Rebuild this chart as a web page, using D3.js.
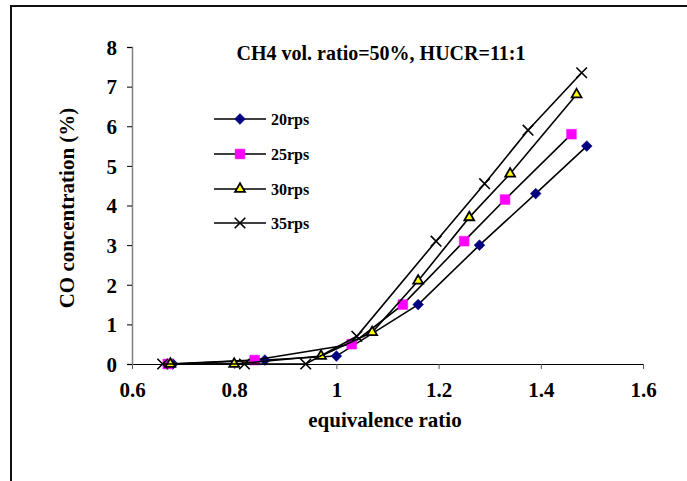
<!DOCTYPE html>
<html>
<head>
<meta charset="utf-8">
<script src="https://cdn.jsdelivr.net/npm/d3@7"></script>
<style>
body { margin: 0; background: #fff; }
text { font-family: "Liberation Serif", "Times New Roman", serif; font-weight: bold; fill: #000; }
</style>
</head>
<body>
<svg width="687" height="481"></svg>
<script>
// series
let series_names = ["20rps", "25rps", "30rps", "35rps"];
let phi20 = [0.68, 0.86, 1.0, 1.16, 1.28, 1.39, 1.49];
let co20 = [0, 0.1, 0.2, 1.5, 3.0, 4.3, 5.5];
let phi25 = [0.67, 0.84, 1.03, 1.13, 1.25, 1.33, 1.46];
let co25 = [0, 0.1, 0.5, 1.5, 3.1, 4.15, 5.8];
let phi30 = [0.675, 0.80, 0.97, 1.07, 1.16, 1.26, 1.34, 1.47];
let co30 = [0, 0, 0.2, 0.8, 2.1, 3.7, 4.8, 6.8];
let phi35 = [0.66, 0.82, 0.94, 1.04, 1.195, 1.29, 1.375, 1.48];
let co35 = [0, 0, 0, 0.7, 3.1, 4.55, 5.9, 7.35];
let x_ticks = [0.6, 0.8, 1.0, 1.2, 1.4, 1.6];
let x_tick_labels = ["0.6", "0.8", "1", "1.2", "1.4", "1.6"];
let y_ticks = [0, 1, 2, 3, 4, 5, 6, 7, 8];

var svg = d3.select("svg");

// outer frame (only left and top edges show)
svg.append("rect")
  .attr("x", 11).attr("y", 6)
  .attr("width", 700).attr("height", 500)
  .attr("fill", "none").attr("stroke", "#111").attr("stroke-width", 2);

var x = d3.scaleLinear().domain([0.6, 1.6]).range([132, 643]);
var y = d3.scaleLinear().domain([0, 8]).range([364, 47]);

// axes
var yAxis = svg.append("g")
  .attr("transform", "translate(132,0)")
  .call(d3.axisLeft(y).tickValues(y_ticks).tickSize(5).tickPadding(10).tickFormat(d3.format("d")));
yAxis.select(".domain").attr("stroke", "#808080").attr("stroke-width", 1.5);
yAxis.selectAll(".tick line").attr("stroke", "#000");
yAxis.selectAll("text").style("font-size", "21px").attr("dy", "0.35em");

var xAxis = svg.append("g")
  .attr("transform", "translate(0,364)")
  .call(d3.axisBottom(x).tickValues(x_ticks).tickSize(5).tickSizeOuter(5).tickPadding(13)
    .tickFormat(function(d, i) { return x_tick_labels[i]; }));
xAxis.select(".domain").attr("stroke", "#000").attr("stroke-width", 1);
xAxis.selectAll(".tick line").attr("stroke", "#555");
xAxis.selectAll("text").style("font-size", "21px");
// keep the y axis line drawn over x axis
yAxis.raise();

// titles
svg.append("text")
  .attr("x", 381).attr("y", 60)
  .attr("text-anchor", "middle")
  .style("font-size", "20px")
  .text("CH4 vol. ratio=50%, HUCR=11:1");

svg.append("text")
  .attr("x", 385).attr("y", 427)
  .attr("text-anchor", "middle")
  .style("font-size", "21px")
  .text("equivalence ratio");

svg.append("text")
  .attr("transform", "translate(74,208) rotate(-90)")
  .attr("text-anchor", "middle")
  .style("font-size", "21px")
  .text("CO concentration (%)");

var line = d3.line()
  .x(function(d) { return x(d[0]); })
  .y(function(d) { return y(d[1]); });

var timesType = d3.symbolTimes || d3.symbolX;

var styles = [
  { type: d3.symbolSquare, size: 58, rot: 45, fill: "#000080", stroke: "#000080", sw: 0.5 },
  { type: d3.symbolSquare, size: 95, rot: 0, fill: "#FF00FF", stroke: "#FF00FF", sw: 0.5 },
  { type: d3.symbolTriangle, size: 42, rot: 0, fill: "#FFFF00", stroke: "#000", sw: 1.8 },
  { type: timesType, size: 75, rot: 0, fill: "none", stroke: "#000", sw: 1.6 }
];

var all = [
  d3.zip(phi20, co20),
  d3.zip(phi25, co25),
  d3.zip(phi30, co30),
  d3.zip(phi35, co35)
];

all.forEach(function(pts, i) {
  var s = styles[i];
  var g = svg.append("g");
  g.append("path")
    .attr("d", line(pts))
    .attr("fill", "none")
    .attr("stroke", "#000")
    .attr("stroke-width", 1.6);
  g.selectAll("path.m")
    .data(pts)
    .enter().append("path")
      .attr("class", "m")
      .attr("d", d3.symbol().type(s.type).size(s.size))
      .attr("transform", function(d) { return "translate(" + x(d[0]) + "," + y(d[1]) + ") rotate(" + s.rot + ")"; })
      .attr("fill", s.fill)
      .attr("stroke", s.stroke)
      .attr("stroke-width", s.sw);
});

// legend
var legY = [119, 154, 189, 223];
series_names.forEach(function(name, i) {
  var s = styles[i];
  var g = svg.append("g").attr("transform", "translate(0," + legY[i] + ")");
  g.append("line")
    .attr("x1", 214).attr("x2", 266)
    .attr("stroke", "#000").attr("stroke-width", 1.6);
  g.append("path")
    .attr("d", d3.symbol().type(s.type).size(s.size))
    .attr("transform", "translate(240,0) rotate(" + s.rot + ")")
    .attr("fill", s.fill)
    .attr("stroke", s.stroke)
    .attr("stroke-width", s.sw);
  g.append("text")
    .attr("x", 271).attr("y", 0).attr("dy", "0.35em")
    .style("font-size", "16px")
    .text(name);
});
</script>
</body>
</html>
